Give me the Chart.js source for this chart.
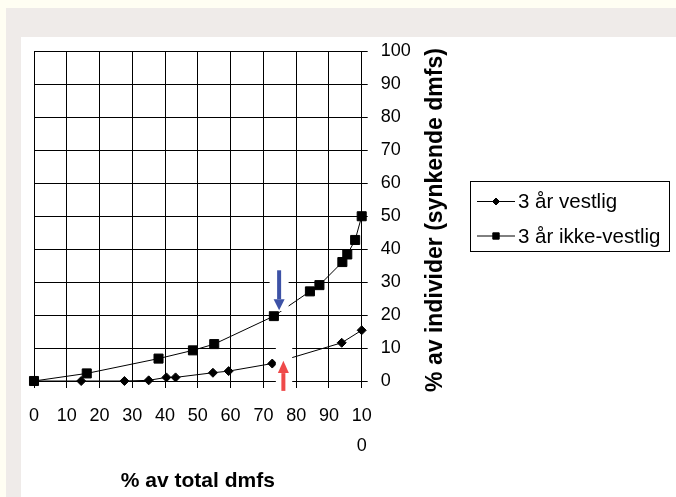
<!DOCTYPE html>
<html>
<head>
<meta charset="utf-8">
<script src="https://cdn.jsdelivr.net/npm/chart.js@4"></script>
<style>
  body { margin: 0; background: #fffef3; width: 676px; height: 497px; overflow: hidden; position: relative; }
  #panel { position: absolute; left: 6px; top: 8px; width: 670px; height: 489px; background: #efebe9; }
  #card { position: absolute; left: 21px; top: 37px; width: 655px; height: 460px; background: #fff; }
  canvas { display: block; }
</style>
</head>
<body>
<div id="panel"></div>
<div id="card"><canvas id="myChart" width="655" height="460"></canvas></div>
<script>
// values
const seriesNames = ['3 år vestlig', '3 år ikke-vestlig'];
const vestligX = [0, 14.4, 27.6, 35, 40.4, 43.2, 54.6, 59.4, 72.7, 93.9, 100];
const vestligY = [0, 0, 0, 0.2, 1.1, 1.1, 2.5, 3, 5.3, 11.6, 15.4];
const ikkeX = [0, 16.1, 38, 48.5, 55, 73.2, 84.2, 87.1, 94.1, 95.6, 98, 100];
const ikkeY = [0, 2.3, 6.8, 9.3, 11.2, 19.7, 27.2, 29.1, 36.1, 38.4, 42.8, 50];
const xTickLabels = ['0', '10', '20', '30', '40', '50', '60', '70', '80', '90', ['10', '0']];
const xTitle = '% av total dmfs';
const yTitle = '% av individer (synkende dmfs)';

const font = '"Liberation Sans", Arial, sans-serif';

function toPoints(xs, ys) {
    return xs.map((x, i) => ({ x: x, y: ys[i] }));
}

// white patches behind the two arrows, then the arrows (in data units)
const arrowMarks = {
    id: 'arrowMarks',
    afterDatasetsDraw(chart) {
        const ctx = chart.ctx;
        const sx = chart.scales.x, sy = chart.scales.y;
        const px = v => sx.getPixelForValue(v);
        const py = v => sy.getPixelForValue(v);
        ctx.save();
        ctx.fillStyle = '#fff';
        ctx.fillRect(px(71.9), py(36), px(77.7) - px(71.9), py(21.2) - py(36));
        ctx.fillRect(px(73.8), py(10.9), px(78.8) - px(73.8), py(-5) - py(10.9));

        function arrow(xv, fromV, baseV, tipV, color) {
            const x = px(xv);
            ctx.fillStyle = color;
            ctx.fillRect(x - 2, Math.min(py(fromV), py(baseV)), 4, Math.abs(py(baseV) - py(fromV)));
            ctx.beginPath();
            ctx.moveTo(x - 5.5, py(baseV));
            ctx.lineTo(x + 5.5, py(baseV));
            ctx.lineTo(x, py(tipV));
            ctx.closePath();
            ctx.fill();
        }
        arrow(74.8, 33.6, 24.8, 21.5, '#3d52a6');
        arrow(76.1, -3, 2.4, 6.15, '#ef4a4a');
        ctx.restore();
    }
};

// rotated y title (reads bottom to top) and the boxed legend
const extras = {
    id: 'extras',
    afterDraw(chart) {
        const ctx = chart.ctx;
        ctx.save();
        ctx.fillStyle = '#000';
        ctx.font = 'bold 23px ' + font;
        ctx.textAlign = 'center';
        ctx.textBaseline = 'middle';
        ctx.translate(415, 183);
        ctx.rotate(-Math.PI / 2);
        ctx.fillText(yTitle, 0, 0);
        ctx.restore();

        ctx.save();
        ctx.strokeStyle = '#000';
        ctx.lineWidth = 1;
        ctx.strokeRect(449.5, 144.5, 199, 70);
        chart.data.datasets.forEach((ds, i) => {
            const y = 164.5 + i * 34.5;
            ctx.beginPath();
            ctx.moveTo(456, y);
            ctx.lineTo(494, y);
            ctx.strokeStyle = '#000';
            ctx.lineWidth = 1;
            ctx.stroke();
            ctx.fillStyle = '#000';
            Chart.helpers.drawPoint(ctx, {
                pointStyle: ds.pointStyle,
                radius: ds.pointStyle === 'rect' ? 4.5 : 3.5,
                borderWidth: 1,
                rotation: 0
            }, 475, y);
            ctx.font = '20.5px ' + font;
            ctx.textAlign = 'left';
            ctx.textBaseline = 'middle';
            ctx.fillText(ds.label, 497, y + 1);
        });
        ctx.restore();
    }
};

const ctx = document.getElementById('myChart').getContext('2d');
new Chart(ctx, {
    type: 'scatter',
    data: {
        datasets: [{
            label: seriesNames[0],
            data: toPoints(vestligX, vestligY),
            showLine: true,
            borderColor: '#000',
            backgroundColor: '#000',
            borderWidth: 1,
            pointStyle: 'rectRot',
            pointRadius: 4.5,
            clip: false
        }, {
            label: seriesNames[1],
            data: toPoints(ikkeX, ikkeY),
            showLine: true,
            borderColor: '#000',
            backgroundColor: '#000',
            borderWidth: 1,
            pointStyle: 'rect',
            pointRadius: 6.4,
            clip: false
        }]
    },
    options: {
        responsive: false,
        animation: false,
        layout: { padding: { left: 13, top: 14.5, right: 0, bottom: 0 } },
        plugins: {
            legend: { display: false },
            tooltip: { enabled: false }
        },
        scales: {
            x: {
                type: 'linear',
                min: 0,
                max: 100,
                ticks: {
                    stepSize: 10,
                    padding: 13,
                    color: '#000',
                    maxRotation: 0,
                    font: { family: font, size: 18, lineHeight: 1.65 },
                    callback: (v, i) => xTickLabels[i]
                },
                grid: { color: '#000', lineWidth: 1, tickLength: 7 },
                border: { color: '#000' },
                title: {
                    display: true,
                    text: xTitle,
                    color: '#000',
                    font: { family: font, size: 21, weight: 'bold' },
                    padding: { top: 0, bottom: 3 }
                },
                afterFit: s => {
                    s.height = 116;
                    s.paddingLeft = 0;
                    s.paddingRight = 0;
                }
            },
            y: {
                position: 'right',
                min: 0,
                max: 100,
                ticks: {
                    stepSize: 10,
                    padding: 13,
                    color: '#000',
                    font: { family: font, size: 18 }
                },
                grid: { color: '#000', lineWidth: 1, tickLength: 6 },
                border: { color: '#000' },
                afterFit: s => {
                    s.width = 314.3;
                    s.paddingTop = 0;
                    s.paddingBottom = 0;
                }
            }
        }
    },
    plugins: [arrowMarks, extras]
});
</script>
</body>
</html>
